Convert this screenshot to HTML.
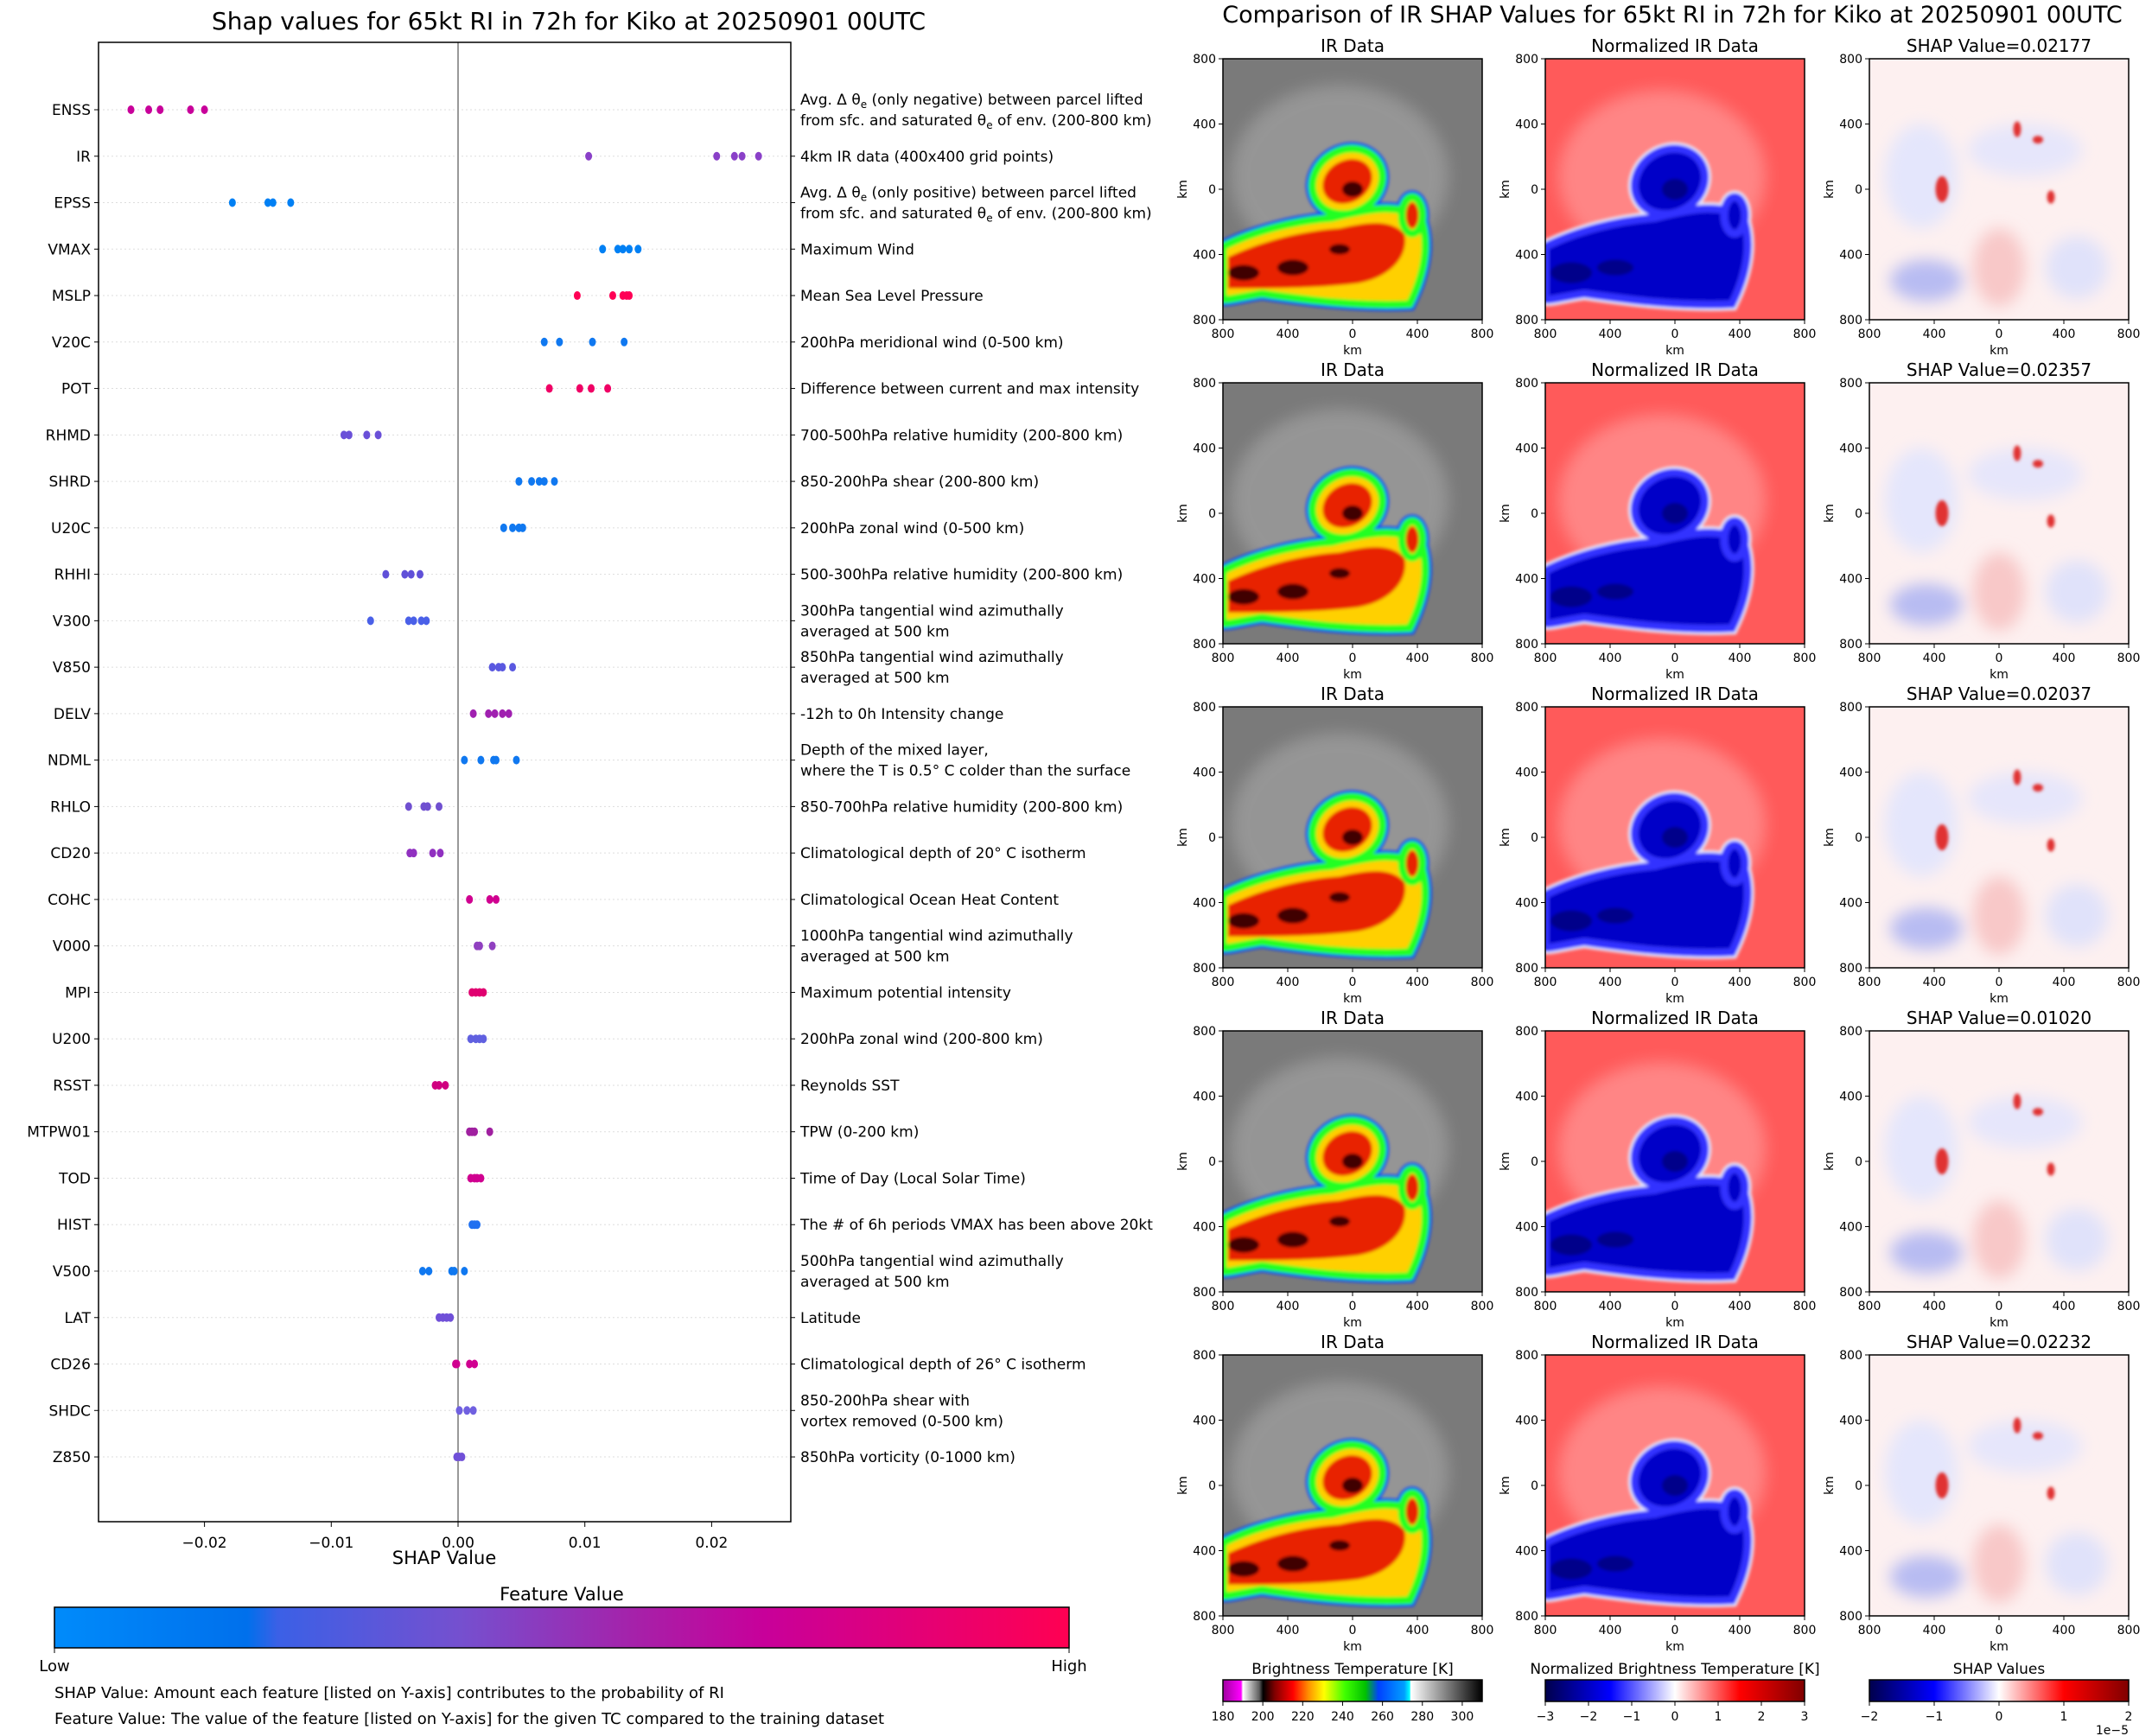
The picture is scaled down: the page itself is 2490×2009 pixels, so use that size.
<!DOCTYPE html>
<html><head><meta charset="utf-8"><style>
html,body{margin:0;padding:0;background:#fff}
svg{display:block;font-family:"DejaVu Sans","Liberation Sans",sans-serif}
</style></head><body>
<svg id="page" width="2490" height="2009" viewBox="0 0 2490 2009" xmlns="http://www.w3.org/2000/svg">
<defs>
<linearGradient id="featGrad" x1="0" x2="1" y1="0" y2="0">
<stop offset="0" stop-color="#008bfb"/><stop offset="0.19" stop-color="#0070ec"/><stop offset="0.22" stop-color="#3b60e6"/><stop offset="0.4" stop-color="#7550cf"/><stop offset="0.58" stop-color="#a81fa8"/><stop offset="0.7" stop-color="#c8009a"/><stop offset="1" stop-color="#ff0052"/></linearGradient>
<linearGradient id="irGrad" x1="0" x2="1">
<stop offset="0" stop-color="#a000a0"/><stop offset="0.07" stop-color="#ff00ff"/><stop offset="0.077" stop-color="#ffffff"/><stop offset="0.14" stop-color="#606060"/><stop offset="0.155" stop-color="#000"/><stop offset="0.2" stop-color="#800000"/><stop offset="0.27" stop-color="#ff0000"/><stop offset="0.33" stop-color="#ff9000"/><stop offset="0.39" stop-color="#ffff00"/><stop offset="0.47" stop-color="#40ff00"/><stop offset="0.55" stop-color="#00c000"/><stop offset="0.6" stop-color="#0040ff"/><stop offset="0.7" stop-color="#00a0ff"/><stop offset="0.72" stop-color="#00ffff"/><stop offset="0.725" stop-color="#ffffff"/><stop offset="1" stop-color="#000000"/></linearGradient>
<linearGradient id="seis" x1="0" x2="1">
<stop offset="0" stop-color="#00004c"/><stop offset="0.25" stop-color="#0000ff"/><stop offset="0.5" stop-color="#ffffff"/><stop offset="0.75" stop-color="#ff0000"/><stop offset="1" stop-color="#800000"/></linearGradient>
<filter id="blur1"><feGaussianBlur stdDeviation="0.6"/></filter>
<filter id="blur3"><feGaussianBlur stdDeviation="3"/></filter>
<symbol id="irImg" viewBox="0 0 100 100" preserveAspectRatio="none">
<rect width="100" height="100" fill="#7a7a7a"/>
<ellipse cx="45" cy="45" rx="42" ry="35" fill="#a8a8a8" opacity="0.6" filter="url(#blur3)"/>
<g filter="url(#blur1)">
<g stroke="#1040ff" stroke-width="5" fill="#1040ff"><ellipse cx="48" cy="47" rx="14" ry="12" transform="rotate(-30 48 47)"/><path d="M0,72 C12,66 28,62 42,61 C58,57 66,56 76,60 C80,70 78,82 72,94 C50,95 30,92 15,90 C8,91 0,93 0,92 Z"/><ellipse cx="73" cy="60" rx="4" ry="7"/></g>
<g stroke="#20ff20" stroke-width="3" fill="#ffd000"><ellipse cx="48" cy="47" rx="14" ry="12" transform="rotate(-30 48 47)"/><path d="M0,72 C12,66 28,62 42,61 C58,57 66,56 76,60 C80,70 78,82 72,94 C50,95 30,92 15,90 C8,91 0,93 0,92 Z"/><ellipse cx="73" cy="60" rx="4" ry="7"/></g>
<g fill="#e82000"><ellipse cx="48" cy="47" rx="10" ry="8" transform="rotate(-30 48 47)"/><path d="M2,76 C15,70 30,66 45,65 C58,62 65,62 70,67 C72,76 64,84 52,86 C35,88 20,88 2,88 Z"/><ellipse cx="73" cy="60" rx="2.5" ry="5"/></g>
<g fill="#400000"><ellipse cx="50" cy="50" rx="4" ry="3"/><ellipse cx="8" cy="82" rx="6" ry="3"/><ellipse cx="27" cy="80" rx="6" ry="3"/><ellipse cx="45" cy="73" rx="4" ry="2"/></g>
</g></symbol>
<symbol id="nImg" viewBox="0 0 100 100" preserveAspectRatio="none">
<rect width="100" height="100" fill="#ff5a5a"/>
<ellipse cx="45" cy="45" rx="40" ry="33" fill="#ffb0b0" opacity="0.5" filter="url(#blur3)"/>
<g filter="url(#blur1)">
<g stroke="#e8e8ff" stroke-width="5" fill="#e8e8ff"><ellipse cx="48" cy="47" rx="14" ry="12" transform="rotate(-30 48 47)"/><path d="M0,72 C12,66 28,62 42,61 C58,57 66,56 76,60 C80,70 78,82 72,94 C50,95 30,92 15,90 C8,91 0,93 0,92 Z"/><ellipse cx="73" cy="60" rx="4" ry="7"/></g>
<g stroke="#3030ff" stroke-width="3" fill="#0000c8"><ellipse cx="48" cy="47" rx="14" ry="12" transform="rotate(-30 48 47)"/><path d="M0,72 C12,66 28,62 42,61 C58,57 66,56 76,60 C80,70 78,82 72,94 C50,95 30,92 15,90 C8,91 0,93 0,92 Z"/><ellipse cx="73" cy="60" rx="4" ry="7"/></g>
<g fill="#00008a"><ellipse cx="50" cy="50" rx="5" ry="4"/><ellipse cx="10" cy="82" rx="8" ry="4"/><ellipse cx="27" cy="80" rx="7" ry="3"/></g>
</g></symbol>
<symbol id="sImg" viewBox="0 0 100 100" preserveAspectRatio="none">
<rect width="100" height="100" fill="#fdf0f0"/>
<g filter="url(#blur3)">
<ellipse cx="20" cy="45" rx="14" ry="20" fill="#e4e6fc"/>
<ellipse cx="60" cy="35" rx="22" ry="10" fill="#e6e6fb"/>
<ellipse cx="22" cy="85" rx="14" ry="8" fill="#b8bcf2"/>
<ellipse cx="50" cy="80" rx="10" ry="15" fill="#f8c8c8"/>
<ellipse cx="80" cy="80" rx="12" ry="12" fill="#e0e2fa"/>
</g>
<g fill="#e03030" filter="url(#blur1)"><ellipse cx="28" cy="50" rx="2.5" ry="5"/><ellipse cx="57" cy="27" rx="1.5" ry="3"/><ellipse cx="65" cy="31" rx="2" ry="1.5"/><ellipse cx="70" cy="53" rx="1.5" ry="2.5"/></g>
</symbol>
</defs>
<text x="658" y="34" font-size="28" text-anchor="middle">Shap values for 65kt RI in 72h for Kiko at 20250901 00UTC</text>
<g id="shapChart"></g>
<text x="1935" y="26" font-size="27" text-anchor="middle">Comparison of IR SHAP Values for 65kt RI in 72h for Kiko at 20250901 00UTC</text>
<g id="panels"></g>
</svg>
<script>
const features = ["ENSS","IR","EPSS","VMAX","MSLP","V20C","POT","RHMD","SHRD","U20C","RHHI","V300","V850","DELV","NDML","RHLO","CD20","COHC","V000","MPI","U200","RSST","MTPW01","TOD","HIST","V500","LAT","CD26","SHDC","Z850"];
const descriptions = [
 ["Avg. Δ θe (only negative) between parcel lifted","from sfc. and saturated θe of env. (200-800 km)"],
 ["4km IR data (400x400 grid points)"],
 ["Avg. Δ θe (only positive) between parcel lifted","from sfc. and saturated θe of env. (200-800 km)"],
 ["Maximum Wind"],["Mean Sea Level Pressure"],["200hPa meridional wind (0-500 km)"],
 ["Difference between current and max intensity"],["700-500hPa relative humidity (200-800 km)"],
 ["850-200hPa shear (200-800 km)"],["200hPa zonal wind (0-500 km)"],["500-300hPa relative humidity (200-800 km)"],
 ["300hPa tangential wind azimuthally","averaged at 500 km"],["850hPa tangential wind azimuthally","averaged at 500 km"],
 ["-12h to 0h Intensity change"],["Depth of the mixed layer,","where the T is 0.5° C colder than the surface"],
 ["850-700hPa relative humidity (200-800 km)"],["Climatological depth of 20° C isotherm"],["Climatological Ocean Heat Content"],
 ["1000hPa tangential wind azimuthally","averaged at 500 km"],["Maximum potential intensity"],["200hPa zonal wind (200-800 km)"],
 ["Reynolds SST"],["TPW (0-200 km)"],["Time of Day (Local Solar Time)"],["The # of 6h periods VMAX has been above 20kt"],
 ["500hPa tangential wind azimuthally","averaged at 500 km"],["Latitude"],["Climatological depth of 26° C isotherm"],
 ["850-200hPa shear with","vortex removed (0-500 km)"],["850hPa vorticity (0-1000 km)"]];
const shapValues = [
 [-0.0258,-0.0244,-0.0235,-0.0211,-0.0200],[0.0103,0.0204,0.0218,0.0224,0.0237],[-0.0178,-0.0150,-0.0146,-0.0132],
 [0.0114,0.0126,0.0130,0.0135,0.0142],[0.0094,0.0122,0.0130,0.0133,0.0135],[0.0068,0.0080,0.0106,0.0131],
 [0.0072,0.0096,0.0105,0.0118],[-0.0090,-0.0086,-0.0072,-0.0063],[0.0048,0.0058,0.0064,0.0068,0.0076],
 [0.0036,0.0043,0.0048,0.0051],[-0.0057,-0.0042,-0.0037,-0.0030],[-0.0069,-0.0039,-0.0035,-0.0029,-0.0025],
 [0.0027,0.0032,0.0035,0.0043],[0.0012,0.0024,0.0029,0.0035,0.0040],[0.0005,0.0018,0.0028,0.0030,0.0046],
 [-0.0039,-0.0027,-0.0024,-0.0015],[-0.0038,-0.0035,-0.0020,-0.0014],[0.0009,0.0025,0.0030],
 [0.0015,0.0017,0.0027],[0.0011,0.0014,0.0017,0.0020],[0.0010,0.0014,0.0017,0.0020],[-0.0018,-0.0015,-0.0010],
 [0.0009,0.0011,0.0013,0.0025],[0.0010,0.0013,0.0015,0.0018],[0.0011,0.0013,0.0015],
 [-0.0028,-0.0023,-0.0005,-0.0003,0.0005],[-0.0015,-0.0012,-0.0009,-0.0006],[-0.0002,-0.0001,0.0009,0.0013],
 [0.0001,0.0007,0.0012],[-0.0001,0.0001,0.0003]];
const dotColors = ["#c8009a","#8a40c8","#0080f4","#0080f4","#ff0055","#1078f0","#f00065","#6a50d8","#1078f0","#1078f0","#6050d8","#4a60e8","#5a58e0","#a020b0","#1078f0","#7050d0","#9030c0","#d00090","#9040c0","#e00070","#6060e0","#d00080","#a020a0","#d00090","#2070f0","#1078f0","#7050d8","#d00090","#7060e0","#7050d8"];
const xTicks = [-0.02,-0.01,0.00,0.01,0.02];
const xTickLabels = ["−0.02","−0.01","0.00","0.01","0.02"];

const NS="http://www.w3.org/2000/svg";
function mk(tag,attrs,parent,text){const e=document.createElementNS(NS,tag);for(const k in attrs)e.setAttribute(k,attrs[k]);if(text!==undefined)e.textContent=text;parent.appendChild(e);return e;}
const AX={l:114,r:915,t:49,b:1761};
const xScale=v=>530+v*14670;
const yScale=i=>127+i*53.76;
const g=document.getElementById('shapChart');
features.forEach((f,i)=>{
  const y=yScale(i);
  const gl=mk('line',{x1:AX.l,x2:AX.r,y1:y,y2:y,stroke:'#ddd','stroke-width':1,'stroke-dasharray':'2,3'},g);
  
  
});
const zl=mk('line',{x1:xScale(0),x2:xScale(0),y1:AX.t,y2:AX.b,stroke:'#999','stroke-width':2},g);


const box=mk('rect',{x:AX.l,y:AX.t,width:AX.r-AX.l,height:AX.b-AX.t,fill:'none',stroke:'#000','stroke-width':1.5},g);


features.forEach((f,i)=>{
  const y=yScale(i);
  const t=mk('text',{x:105,y:y+6,'font-size':17,'text-anchor':'end'},g,f);
  
  
  mk('line',{x1:AX.l-5,x2:AX.l,y1:y,y2:y,stroke:'#000'},g);
  mk('line',{x1:AX.r,x2:AX.r+5,y1:y,y2:y,stroke:'#000'},g);
  const d=descriptions[i];
  const base = d.length===1 ? [y+6] : [y-6,y+18];
  d.forEach((line,j)=>{
    const tt=mk('text',{x:926,y:base[j],'font-size':17},g);
    
    
    const k=line.indexOf('θe');
    if(k>=0){
      mk('tspan',{},tt,line.slice(0,k)+'θ');
      mk('tspan',{'font-size':12,dy:4},tt,'e');
      mk('tspan',{dy:-4},tt,line.slice(k+2));
    } else tt.textContent=line;
  });
  shapValues[i].forEach(v=>{
    const c=mk('ellipse',{cx:xScale(v),cy:y,rx:4,ry:5,fill:dotColors[i]},g);
    
    
  });
});
xTicks.forEach((v,i)=>{
  const x=xScale(v);
  mk('line',{x1:x,x2:x,y1:AX.b,y2:AX.b+6,stroke:'#000'},g);
  const t=mk('text',{x:x,y:AX.b+30,'font-size':17,'text-anchor':'middle'},g,xTickLabels[i]);
  
  
});
const xl=mk('text',{x:514,y:1810,'font-size':21,'text-anchor':'middle'},g,'SHAP Value');


const ft=mk('text',{x:650,y:1852,'font-size':21,'text-anchor':'middle'},g,'Feature Value');


const cb=mk('rect',{x:63,y:1860,width:1174,height:47,fill:'url(#featGrad)',stroke:'#000','stroke-width':1.5},g);


mk('line',{x1:63,x2:63,y1:1907,y2:1913,stroke:'#000'},g);
mk('line',{x1:1237,x2:1237,y1:1907,y2:1913,stroke:'#000'},g);
const lo=mk('text',{x:63,y:1934,'font-size':18,'text-anchor':'middle'},g,'Low');


const hi=mk('text',{x:1237,y:1934,'font-size':18,'text-anchor':'middle'},g,'High');


const n1=mk('text',{x:63,y:1965,'font-size':18},g,'SHAP Value: Amount each feature [listed on Y-axis] contributes to the probability of RI');


const n2=mk('text',{x:63,y:1995,'font-size':18},g,'Feature Value: The value of the feature [listed on Y-axis] for the given TC compared to the training dataset');



const shapTitles=["0.02177","0.02357","0.02037","0.01020","0.02232"];
const colX=[1415,1788,2163], rowY=[68,443,818,1193,1568], W=300, H=302;
const P=document.getElementById('panels');
const syms=['#irImg','#nImg','#sImg'];
const kmLabels=['800','400','0','400','800'];
rowY.forEach((ry,r)=>{
  colX.forEach((cx,c)=>{
    const titles=['IR Data','Normalized IR Data','SHAP Value='+shapTitles[r]];
    const t=mk('text',{x:cx+W/2,y:ry-8,'font-size':20,'text-anchor':'middle'},P,titles[c]);
    
    
    const u=mk('use',{href:syms[c],x:cx,y:ry,width:W,height:H},P);
    
    
    mk('rect',{x:cx,y:ry,width:W,height:H,fill:'none',stroke:'#000','stroke-width':1.5},P);
    for(let k=0;k<5;k++){
      const yy=ry+k*H/4, xx=cx+k*W/4;
      mk('line',{x1:cx-5,x2:cx,y1:yy,y2:yy,stroke:'#000'},P);
      mk('text',{x:cx-8,y:yy+5,'font-size':14,'text-anchor':'end'},P,kmLabels[k]);
      mk('line',{x1:xx,x2:xx,y1:ry+H,y2:ry+H+5,stroke:'#000'},P);
      mk('text',{x:xx,y:ry+H+21,'font-size':14,'text-anchor':'middle'},P,kmLabels[k]);
    }
    mk('text',{x:cx+W/2,y:ry+H+40,'font-size':14,'text-anchor':'middle'},P,'km');
    mk('text',{x:0,y:0,'font-size':14,'text-anchor':'middle',transform:`translate(${cx-42},${ry+H/2}) rotate(-90)`},P,'km');
  });
});
const cbs=[
 {x:1415,fill:'url(#irGrad)',title:'Brightness Temperature [K]',ticks:[180,200,220,240,260,280,300],min:180,max:310},
 {x:1788,fill:'url(#seis)',title:'Normalized Brightness Temperature [K]',ticks:[-3,-2,-1,0,1,2,3],min:-3,max:3},
 {x:2163,fill:'url(#seis)',title:'SHAP Values',ticks:[-2,-1,0,1,2],min:-2,max:2}];
cbs.forEach((b,i)=>{
  const t=mk('text',{x:b.x+W/2,y:1937,'font-size':17,'text-anchor':'middle'},P,b.title);
  
  
  const r=mk('rect',{x:b.x,y:1944,width:W,height:25,fill:b.fill,stroke:'#000','stroke-width':1.5},P);
  
  
  b.ticks.forEach(v=>{
    const x=b.x+(v-b.min)/(b.max-b.min)*W;
    mk('line',{x1:x,x2:x,y1:1969,y2:1974,stroke:'#000'},P);
    mk('text',{x:x,y:1991,'font-size':14,'text-anchor':'middle'},P,String(v).replace('-','−'));
  });
});
mk('text',{x:2463,y:2007,'font-size':14,'text-anchor':'end'},P,'1e−5');
</script>
</body></html>
